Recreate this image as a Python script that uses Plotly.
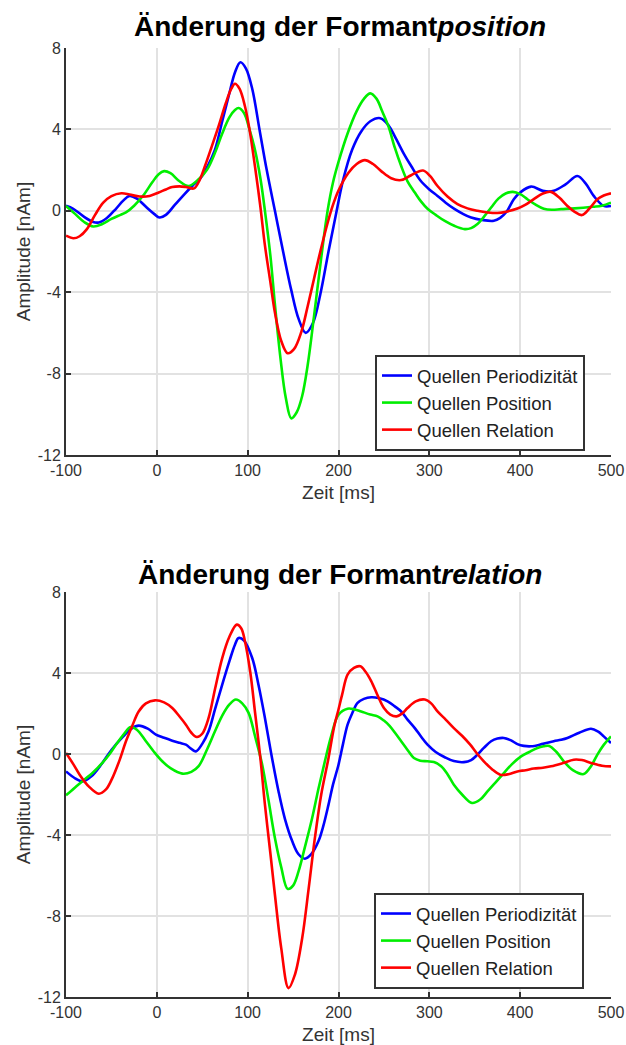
import plotly.graph_objects as go

# ---------------- data: top panel (Änderung der Formantposition) ----------------
t_top_per = [-100, -92, -80, -70, -64, -55, -45, -37, -30, -22, -12, -3, 3, 10, 20, 30, 39, 48, 56, 64, 72, 80, 86, 92, 98, 105,
             113, 121, 130, 139, 148, 156, 164, 172, 180, 189, 198, 205, 215, 225, 235, 246, 255, 262, 272, 280, 290, 300,
             309, 318, 328, 337, 346, 358, 371, 378, 385, 393, 400, 412, 425, 437, 450, 463, 472, 481, 492, 500]
v_top_per = [0.25, 0.1, -0.3, -0.55, -0.57, -0.35, 0.1, 0.5, 0.73, 0.6, 0.2, -0.15, -0.33, -0.2, 0.3, 0.8, 1.22, 1.6, 2.2, 3.0, 4.4, 5.8, 6.8, 7.3, 7.0, 6.0,
             4.0, 2.0, 0.0, -2.0, -3.9, -5.3, -6.0, -5.5, -4.1, -2.0, 0.0, 1.5, 3.0, 3.9, 4.4, 4.55, 4.2, 3.66, 2.8, 2.2, 1.5, 1.05,
             0.73, 0.4, 0.08, -0.15, -0.33, -0.45, -0.49, -0.35, -0.05, 0.57, 0.9, 1.19, 0.98, 0.98, 1.3, 1.71, 1.35, 0.73, 0.24, 0.24]

t_top_pos = [-100, -90, -80, -70, -60, -50, -40, -34, -25, -15, -5, 2, 8, 15, 25, 35, 46, 55, 64, 72, 80, 86, 90, 96, 102, 108,
             114, 119, 125, 130, 136, 142, 148, 154, 160, 166, 173, 181, 188, 194, 200, 210, 220, 228, 235, 242, 248, 255, 262,
             269, 276, 284, 291, 298, 307, 317, 328, 339, 346, 353, 360, 368, 376, 384, 392, 400, 408, 417, 426, 435, 445, 460,
             480, 490, 500]
v_top_pos = [0.24, -0.15, -0.55, -0.77, -0.65, -0.4, -0.2, -0.08, 0.25, 0.75, 1.4, 1.8, 1.95, 1.85, 1.45, 1.22, 1.55, 2.0, 2.85, 3.8, 4.6, 4.95, 5.05, 4.8, 4.0, 3.0,
             1.6, 0.0, -2.2, -4.6, -7.2, -9.2, -10.2, -9.9, -9.1, -7.6, -5.2, -2.3, 0.0, 1.4, 2.4, 3.8, 4.9, 5.5, 5.77, 5.5, 4.9, 4.15, 3.1,
             2.2, 1.45, 0.9, 0.45, 0.1, -0.2, -0.5, -0.75, -0.9, -0.85, -0.65, -0.3, 0.16, 0.6, 0.85, 0.93, 0.82, 0.57, 0.3, 0.1, 0.05, 0.08, 0.12,
             0.2, 0.25, 0.4]

t_top_rel = [-100, -92, -85, -77, -68, -59, -50, -39, -30, -19, -8, 2, 10, 17, 25, 32, 41, 47, 53, 60, 68, 76, 82, 86, 91, 97,
             102, 108, 114, 119, 125, 130, 137, 144, 151, 159, 166, 173, 180, 188, 194, 200, 211, 220, 229, 238, 247, 258, 269,
             280, 293, 301, 309, 320, 331, 342, 353, 364, 375, 386, 397, 406, 415, 425, 434, 443, 452, 460, 468, 476, 485, 492, 500]
v_top_rel = [-1.22, -1.35, -1.25, -0.9, -0.2, 0.4, 0.72, 0.86, 0.8, 0.7, 0.73, 0.9, 1.05, 1.17, 1.2, 1.17, 1.1, 1.5, 2.2, 3.1, 4.16, 5.3, 6.0, 6.24, 6.0, 5.14,
             4.0, 2.2, 0.2, -1.7, -3.5, -5.0, -6.4, -7.0, -6.8, -5.96, -4.7, -3.35, -2.0, -0.6, 0.3, 1.0, 1.87, 2.3, 2.49, 2.3, 1.95, 1.6, 1.51,
             1.75, 1.98, 1.7, 1.22, 0.7, 0.33, 0.12, 0.0, -0.08, -0.11, -0.03, 0.11, 0.3, 0.57, 0.85, 0.93, 0.65, 0.24, -0.05, -0.21, 0.1, 0.57, 0.75, 0.86]

# ---------------- data: bottom panel (Änderung der Formantrelation) ----------------
t_bot_per = [-100, -90, -82, -72, -60, -50, -38, -28, -20, -10, -1, 8, 17, 25, 32, 38, 43, 50, 57, 64, 72, 80, 86, 90, 96, 105,
             112, 119, 126, 134, 141, 149, 156, 163, 170, 178, 183, 189, 194, 200, 205, 210, 215, 221, 228, 236, 245, 254, 262,
             269, 276, 284, 291, 298, 307, 317, 327, 338, 346, 353, 360, 368, 375, 382, 390, 397, 404, 412, 425, 437, 445, 452,
             465, 478, 486, 492, 500]
v_bot_per = [-0.86, -1.2, -1.35, -1.1, -0.44, 0.2, 0.82, 1.25, 1.4, 1.25, 0.96, 0.8, 0.66, 0.55, 0.46, 0.25, 0.13, 0.5, 1.12, 2.2, 3.43, 4.6, 5.4, 5.73, 5.6, 4.74,
             3.4, 1.78, 0.0, -1.85, -3.2, -4.3, -4.95, -5.17, -4.95, -4.3, -3.6, -2.5, -1.5, -0.53, 0.5, 1.45, 2.0, 2.52, 2.72, 2.8, 2.75, 2.6, 2.35,
             2.1, 1.7, 1.28, 0.85, 0.46, 0.1, -0.16, -0.35, -0.4, -0.3, -0.03, 0.3, 0.63, 0.76, 0.79, 0.67, 0.49, 0.4, 0.38, 0.5, 0.63, 0.7, 0.79,
             1.05, 1.25, 1.1, 0.87, 0.54]

t_bot_pos = [-100, -90, -82, -70, -60, -52, -45, -36, -29, -22, -12, -3, 6, 15, 28, 38, 46, 55, 64, 72, 80, 87, 94, 101, 108,
             116, 123, 130, 137, 144, 150, 156, 163, 171, 178, 185, 192, 200, 210, 218, 225, 235, 243, 250, 256, 263, 269, 276,
             283, 290, 298, 305, 313, 320, 327, 336, 347, 356, 364, 373, 382, 391, 401, 410, 419, 426, 432, 440, 448, 458, 470,
             478, 485, 492, 500]
v_bot_pos = [-2.04, -1.65, -1.35, -0.9, -0.44, 0.0, 0.46, 1.0, 1.33, 1.2, 0.63, 0.1, -0.36, -0.7, -0.97, -0.88, -0.6, 0.2, 1.12, 1.9, 2.45, 2.69, 2.5, 2.03, 0.9,
             -0.53, -2.3, -4.15, -5.6, -6.66, -6.5, -5.8, -4.6, -3.16, -1.7, -0.36, 0.9, 1.94, 2.24, 2.2, 2.1, 1.95, 1.86, 1.65, 1.4, 1.0, 0.63, 0.2,
             -0.2, -0.33, -0.36, -0.4, -0.61, -1.0, -1.52, -2.0, -2.42, -2.25, -1.85, -1.4, -0.94, -0.5, -0.12, 0.1, 0.3, 0.38, 0.4, 0.1, -0.36, -0.8, -0.99,
             -0.6, -0.03, 0.45, 0.87]

t_bot_rel = [-100, -92, -85, -75, -64, -56, -49, -41, -34, -27, -20, -12, -2, 8, 17, 25, 32, 38, 44, 50, 57, 64, 72, 80, 88, 93,
             97, 103, 108, 114, 119, 125, 130, 137, 145, 152, 160, 167, 174, 181, 189, 195, 200, 204, 210, 217, 224, 230, 236,
             243, 250, 257, 264, 270, 276, 285, 295, 302, 309, 318, 327, 336, 345, 352, 360, 369, 378, 387, 397, 406, 415, 425,
             434, 447, 459, 468, 478, 490, 500]
v_bot_rel = [0.05, -0.5, -1.02, -1.6, -1.96, -1.75, -1.19, -0.3, 0.63, 1.4, 2.1, 2.5, 2.65, 2.55, 2.27, 1.85, 1.45, 1.05, 0.84, 1.0, 1.78, 3.2, 4.74, 5.8, 6.39, 6.2,
             5.57, 4.0, 2.1, -0.2, -2.5, -4.9, -6.95, -9.6, -11.56, -10.9, -9.1, -6.7, -4.15, -2.0, -0.2, 1.3, 2.2, 2.93, 3.92, 4.25, 4.33, 4.05, 3.6,
             2.9, 2.27, 1.95, 1.86, 2.0, 2.27, 2.6, 2.69, 2.5, 2.1, 1.7, 1.28, 0.9, 0.46, 0.05, -0.36, -0.75, -1.02, -1.0, -0.86, -0.8, -0.72, -0.68,
             -0.61, -0.45, -0.28, -0.3, -0.44, -0.58, -0.61]

series_names = ["Quellen Periodizität", "Quellen Position", "Quellen Relation"]
series_colors = ["#0000ff", "#00ee00", "#ff0000"]
titles = ["Änderung der Formant<i>position</i>", "Änderung der Formant<i>relation</i>"]
x_tick_vals = [-100, 0, 100, 200, 300, 400, 500]
x_tick_text = ["-100", "0", "100", "200", "300", "400", "500"]
y_tick_vals = [-12, -8, -4, 0, 4, 8]
y_tick_text = ["-12", "-8", "-4", "0", "4", "8"]

FONT = "Liberation Sans, Arial, sans-serif"
W, H = 626, 1045

fig = go.Figure()

panels = [
    ("x", "y", "legend", [(t_top_per, v_top_per), (t_top_pos, v_top_pos), (t_top_rel, v_top_rel)]),
    ("x2", "y2", "legend2", [(t_bot_per, v_bot_per), (t_bot_pos, v_bot_pos), (t_bot_rel, v_bot_rel)]),
]
for xa, ya, lg, data in panels:
    for (tt, vv), name, col in zip(data, series_names, series_colors):
        fig.add_trace(go.Scatter(
            x=tt, y=vv, mode="lines", name=name, xaxis=xa, yaxis=ya, legend=lg,
            line=dict(color=col, width=2.6, shape="spline", smoothing=1.0),
        ))

# pixel geometry of the two plot areas
x0, x1 = 66, 611
top_y0, top_y1 = 48, 455      # pixel rows (top, bottom)
bot_y0, bot_y1 = 592, 997

def ydom(a, b):
    return [1 - b / H, 1 - a / H]

axis_common = dict(
    showline=True, linecolor="#333333", linewidth=2,
    ticks="inside", ticklen=5, tickwidth=1.5, tickcolor="#333333",
    showgrid=True, gridcolor="#e2e2e2", gridwidth=1.5,
    zeroline=False, automargin=False, ticklabeloverflow="allow",
    tickfont=dict(family=FONT, size=16, color="#333333"),
)

xa_kw = dict(axis_common, range=[-100, 500], tickvals=x_tick_vals, ticktext=x_tick_text,
             title=dict(text="Zeit [ms]", font=dict(family=FONT, size=19, color="#333333"), standoff=7))
ya_kw = dict(axis_common, range=[-12, 8], tickvals=y_tick_vals, ticktext=y_tick_text,
             title=dict(text="Amplitude [nAm]", font=dict(family=FONT, size=19, color="#333333"), standoff=2))

legend_common = dict(xanchor="left", yanchor="top",
                     bgcolor="white", bordercolor="#333333", borderwidth=2,
                     font=dict(family=FONT, size=18.5, color="#222222"))

fig.update_layout(
    width=W, height=H,
    margin=dict(l=0, r=0, t=0, b=0),
    paper_bgcolor="white", plot_bgcolor="white",
    font=dict(family=FONT, color="#333333"),
    xaxis=dict(xa_kw, domain=[x0 / W, x1 / W], anchor="y"),
    yaxis=dict(ya_kw, domain=ydom(top_y0, top_y1), anchor="x"),
    xaxis2=dict(xa_kw, domain=[x0 / W, x1 / W], anchor="y2"),
    yaxis2=dict(ya_kw, domain=ydom(bot_y0, bot_y1), anchor="x2"),
    legend=dict(legend_common, x=375 / W, y=1 - 355 / H),
    legend2=dict(legend_common, x=374 / W, y=1 - 893 / H),
    annotations=[
        dict(text="<b>" + titles[0] + "</b>", x=340 / W, y=1 - 27 / H, xref="paper", yref="paper",
             xanchor="center", yanchor="middle", showarrow=False,
             font=dict(family=FONT, size=28, color="black")),
        dict(text="<b>" + titles[1] + "</b>", x=340 / W, y=1 - 574 / H, xref="paper", yref="paper",
             xanchor="center", yanchor="middle", showarrow=False,
             font=dict(family=FONT, size=28, color="black")),
    ],
)

fig.write_html("out.html")
